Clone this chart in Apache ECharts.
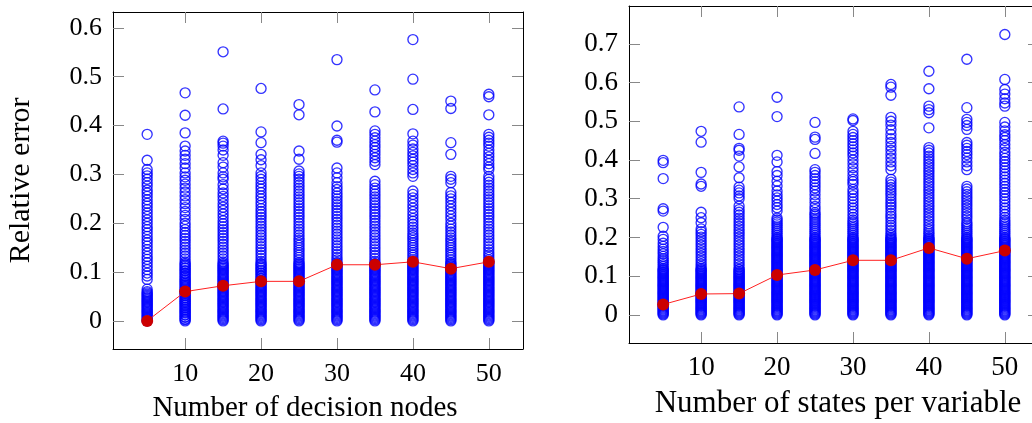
<!DOCTYPE html>
<html>
<head>
<meta charset="utf-8">
<script src="https://cdn.jsdelivr.net/npm/echarts@6/dist/echarts.min.js"></script>
<style>
  html, body { margin: 0; padding: 0; background: #fff; }
  #chart { width: 1032px; height: 423px; }
</style>
</head>
<body>
<div id="chart"></div>
<script>
// x positions (same for both panels)
const sizes = [5, 10, 15, 20, 25, 30, 35, 40, 45, 50];
const xTicks = [10, 20, 30, 40, 50];
const nodesYTicks = [0, 0.1, 0.2, 0.3, 0.4, 0.5, 0.6];
const statesYTicks = [0, 0.1, 0.2, 0.3, 0.4, 0.5, 0.6, 0.7];

// left panel: relative error per number of decision nodes
const nodesErr05 = [0.382, 0.329, 0.31, 0.303, 0.297, 0.29, 0.283, 0.276, 0.268, 0.262, 0.255, 0.248, 0.241, 0.235, 0.228, 0.221, 0.214, 0.207, 0.2, 0.193, 0.187, 0.18, 0.173, 0.166, 0.16, 0.153, 0.146, 0.139, 0.132, 0.126, 0.119, 0.112, 0.105, 0.098, 0.092, 0.085, 0.065, 0.06, 0.055, 0.05, 0.045, 0.04, 0.035, 0.03, 0.025, 0.02, 0.015, 0.01, 0.005, 0];
const nodesErr10 = [0.467, 0.421, 0.385, 0.358, 0.348, 0.339, 0.331, 0.322, 0.313, 0.303, 0.295, 0.288, 0.28, 0.272, 0.264, 0.256, 0.248, 0.24, 0.232, 0.224, 0.216, 0.208, 0.2, 0.194, 0.187, 0.181, 0.175, 0.169, 0.163, 0.157, 0.151, 0.145, 0.139, 0.133, 0.127, 0.121, 0.115, 0.109, 0.103, 0.097, 0.091, 0.085, 0.08, 0.075, 0.07, 0.065, 0.06, 0.056, 0.052, 0.048, 0.044, 0.04, 0.036, 0.032, 0.028, 0.024, 0.02, 0.016, 0.012, 0.008, 0.004, 0];
const nodesErr15 = [0.551, 0.434, 0.368, 0.364, 0.358, 0.35, 0.339, 0.324, 0.315, 0.303, 0.295, 0.29, 0.279, 0.27, 0.262, 0.255, 0.248, 0.24, 0.233, 0.226, 0.219, 0.212, 0.205, 0.199, 0.193, 0.187, 0.181, 0.175, 0.169, 0.163, 0.157, 0.151, 0.145, 0.139, 0.133, 0.127, 0.121, 0.115, 0.11, 0.105, 0.1, 0.095, 0.09, 0.085, 0.08, 0.075, 0.07, 0.065, 0.06, 0.055, 0.05, 0.045, 0.04, 0.035, 0.03, 0.025, 0.02, 0.015, 0.01, 0.005, 0];
const nodesErr20 = [0.476, 0.387, 0.365, 0.341, 0.33, 0.318, 0.303, 0.296, 0.29, 0.283, 0.276, 0.27, 0.263, 0.256, 0.25, 0.243, 0.237, 0.23, 0.224, 0.218, 0.212, 0.206, 0.2, 0.194, 0.188, 0.182, 0.176, 0.17, 0.164, 0.158, 0.152, 0.146, 0.14, 0.134, 0.128, 0.122, 0.116, 0.11, 0.104, 0.098, 0.092, 0.086, 0.08, 0.075, 0.07, 0.065, 0.06, 0.055, 0.05, 0.045, 0.04, 0.035, 0.03, 0.025, 0.02, 0.015, 0.01, 0.005, 0];
const nodesErr25 = [0.443, 0.422, 0.348, 0.331, 0.307, 0.301, 0.296, 0.29, 0.284, 0.278, 0.272, 0.266, 0.26, 0.254, 0.248, 0.242, 0.236, 0.23, 0.224, 0.218, 0.212, 0.206, 0.2, 0.194, 0.188, 0.182, 0.176, 0.17, 0.165, 0.16, 0.155, 0.15, 0.145, 0.14, 0.135, 0.13, 0.125, 0.12, 0.115, 0.11, 0.105, 0.1, 0.095, 0.09, 0.085, 0.08, 0.075, 0.07, 0.065, 0.06, 0.055, 0.05, 0.045, 0.04, 0.035, 0.03, 0.025, 0.02, 0.015, 0.01, 0.005, 0];
const nodesErr30 = [0.535, 0.399, 0.37, 0.366, 0.313, 0.303, 0.293, 0.283, 0.275, 0.269, 0.262, 0.256, 0.25, 0.244, 0.238, 0.232, 0.226, 0.22, 0.214, 0.208, 0.202, 0.196, 0.19, 0.184, 0.178, 0.172, 0.166, 0.16, 0.154, 0.148, 0.142, 0.136, 0.13, 0.125, 0.12, 0.115, 0.11, 0.105, 0.1, 0.095, 0.09, 0.085, 0.08, 0.075, 0.07, 0.065, 0.06, 0.055, 0.05, 0.045, 0.04, 0.035, 0.03, 0.025, 0.02, 0.015, 0.01, 0.005, 0];
const nodesErr35 = [0.473, 0.428, 0.389, 0.382, 0.375, 0.368, 0.361, 0.355, 0.348, 0.341, 0.334, 0.327, 0.32, 0.286, 0.279, 0.272, 0.266, 0.26, 0.254, 0.248, 0.242, 0.236, 0.23, 0.224, 0.218, 0.212, 0.206, 0.2, 0.194, 0.188, 0.182, 0.176, 0.17, 0.164, 0.158, 0.152, 0.146, 0.14, 0.134, 0.128, 0.122, 0.116, 0.11, 0.105, 0.1, 0.095, 0.09, 0.085, 0.08, 0.075, 0.07, 0.065, 0.06, 0.055, 0.05, 0.045, 0.04, 0.035, 0.03, 0.025, 0.02, 0.015, 0.01, 0.005, 0];
const nodesErr40 = [0.576, 0.495, 0.433, 0.383, 0.368, 0.36, 0.352, 0.345, 0.338, 0.331, 0.325, 0.318, 0.31, 0.303, 0.296, 0.266, 0.259, 0.252, 0.245, 0.238, 0.231, 0.224, 0.217, 0.21, 0.204, 0.198, 0.192, 0.186, 0.18, 0.175, 0.17, 0.165, 0.16, 0.155, 0.15, 0.145, 0.14, 0.135, 0.13, 0.125, 0.12, 0.115, 0.11, 0.105, 0.1, 0.095, 0.09, 0.085, 0.08, 0.075, 0.07, 0.065, 0.06, 0.055, 0.05, 0.045, 0.04, 0.035, 0.03, 0.025, 0.02, 0.015, 0.01, 0.005, 0];
const nodesErr45 = [0.45, 0.435, 0.365, 0.341, 0.296, 0.29, 0.283, 0.263, 0.256, 0.25, 0.243, 0.236, 0.229, 0.222, 0.215, 0.208, 0.2, 0.194, 0.188, 0.182, 0.176, 0.17, 0.165, 0.16, 0.155, 0.15, 0.145, 0.14, 0.135, 0.13, 0.125, 0.12, 0.115, 0.11, 0.105, 0.1, 0.095, 0.09, 0.085, 0.08, 0.075, 0.07, 0.065, 0.06, 0.055, 0.05, 0.045, 0.04, 0.035, 0.03, 0.025, 0.02, 0.015, 0.01, 0.005, 0];
const nodesErr50 = [0.464, 0.459, 0.422, 0.382, 0.376, 0.37, 0.364, 0.358, 0.35, 0.343, 0.336, 0.329, 0.322, 0.315, 0.31, 0.296, 0.29, 0.284, 0.278, 0.272, 0.266, 0.26, 0.254, 0.248, 0.242, 0.236, 0.23, 0.224, 0.218, 0.212, 0.206, 0.2, 0.194, 0.188, 0.182, 0.176, 0.17, 0.164, 0.158, 0.152, 0.146, 0.14, 0.135, 0.13, 0.125, 0.12, 0.115, 0.11, 0.105, 0.1, 0.095, 0.09, 0.085, 0.08, 0.075, 0.07, 0.065, 0.06, 0.055, 0.05, 0.045, 0.04, 0.035, 0.03, 0.025, 0.02, 0.015, 0.01, 0.005, 0];
// extra readings packed at the base of every column (solid blue part)
const nodesBase = [0.0025, 0.0075, 0.0125, 0.0175, 0.0225, 0.0275, 0.0325, 0.0375, 0.0425, 0.0475, 0.0525, 0.0575];
// solid part above the base, columns 10..50 only
const nodesCore = [0.0625, 0.0675, 0.0725, 0.0775, 0.0825, 0.0875, 0.0925, 0.0975, 0.1025, 0.1075, 0.1125, 0.1175];
const nodesMean = [0, 0.06, 0.072, 0.081, 0.081, 0.115, 0.115, 0.121, 0.107, 0.121];

// right panel: relative error per number of states per variable
const statesErr05 = [0.399, 0.393, 0.352, 0.274, 0.268, 0.226, 0.203, 0.195, 0.185, 0.177, 0.17, 0.164, 0.158, 0.151, 0.145, 0.14, 0.135, 0.13, 0.125, 0.12, 0.115, 0.11, 0.105, 0.1, 0.095, 0.09, 0.085, 0.08, 0.075, 0.07, 0.065, 0.06, 0.055, 0.05, 0.045, 0.04, 0.035, 0.03, 0.025, 0.02, 0.015, 0.01, 0.005, 0];
const statesErr10 = [0.474, 0.446, 0.368, 0.338, 0.332, 0.265, 0.251, 0.238, 0.222, 0.215, 0.208, 0.201, 0.194, 0.187, 0.18, 0.173, 0.166, 0.159, 0.152, 0.145, 0.138, 0.131, 0.125, 0.12, 0.115, 0.11, 0.105, 0.1, 0.095, 0.09, 0.085, 0.08, 0.075, 0.07, 0.065, 0.06, 0.055, 0.05, 0.045, 0.04, 0.035, 0.03, 0.025, 0.02, 0.015, 0.01, 0.005, 0];
const statesErr15 = [0.537, 0.466, 0.43, 0.425, 0.41, 0.382, 0.354, 0.33, 0.322, 0.315, 0.307, 0.3, 0.281, 0.272, 0.265, 0.258, 0.25, 0.243, 0.236, 0.229, 0.222, 0.215, 0.208, 0.201, 0.194, 0.187, 0.18, 0.173, 0.166, 0.159, 0.152, 0.145, 0.138, 0.131, 0.124, 0.117, 0.11, 0.105, 0.1, 0.095, 0.09, 0.085, 0.08, 0.075, 0.07, 0.065, 0.06, 0.055, 0.05, 0.045, 0.04, 0.035, 0.03, 0.025, 0.02, 0.015, 0.01, 0.005, 0];
const statesErr20 = [0.562, 0.512, 0.412, 0.395, 0.37, 0.36, 0.345, 0.333, 0.32, 0.31, 0.302, 0.294, 0.285, 0.277, 0.268, 0.25, 0.245, 0.24, 0.235, 0.23, 0.225, 0.22, 0.215, 0.21, 0.205, 0.2, 0.195, 0.19, 0.185, 0.18, 0.175, 0.17, 0.165, 0.16, 0.155, 0.15, 0.145, 0.14, 0.135, 0.13, 0.125, 0.12, 0.115, 0.11, 0.105, 0.1, 0.095, 0.09, 0.085, 0.08, 0.075, 0.07, 0.065, 0.06, 0.055, 0.05, 0.045, 0.04, 0.035, 0.03, 0.025, 0.02, 0.015, 0.01, 0.005, 0];
const statesErr25 = [0.497, 0.459, 0.453, 0.417, 0.375, 0.368, 0.36, 0.352, 0.344, 0.336, 0.328, 0.32, 0.31, 0.3, 0.29, 0.28, 0.272, 0.264, 0.26, 0.255, 0.25, 0.245, 0.24, 0.235, 0.23, 0.225, 0.22, 0.215, 0.21, 0.205, 0.2, 0.195, 0.19, 0.185, 0.18, 0.175, 0.17, 0.165, 0.16, 0.155, 0.15, 0.145, 0.14, 0.135, 0.13, 0.125, 0.12, 0.115, 0.11, 0.105, 0.1, 0.095, 0.09, 0.085, 0.08, 0.075, 0.07, 0.065, 0.06, 0.055, 0.05, 0.045, 0.04, 0.035, 0.03, 0.025, 0.02, 0.015, 0.01, 0.005, 0];
const statesErr30 = [0.506, 0.502, 0.474, 0.466, 0.458, 0.45, 0.442, 0.434, 0.426, 0.418, 0.41, 0.4, 0.39, 0.38, 0.37, 0.36, 0.35, 0.344, 0.337, 0.324, 0.316, 0.308, 0.3, 0.292, 0.284, 0.276, 0.268, 0.26, 0.252, 0.245, 0.24, 0.235, 0.23, 0.225, 0.22, 0.215, 0.21, 0.205, 0.2, 0.195, 0.19, 0.185, 0.18, 0.175, 0.17, 0.165, 0.16, 0.155, 0.15, 0.145, 0.14, 0.135, 0.13, 0.125, 0.12, 0.115, 0.11, 0.105, 0.1, 0.095, 0.09, 0.085, 0.08, 0.075, 0.07, 0.065, 0.06, 0.055, 0.05, 0.045, 0.04, 0.035, 0.03, 0.025, 0.02, 0.015, 0.01, 0.005, 0];
const statesErr35 = [0.595, 0.588, 0.567, 0.51, 0.5, 0.49, 0.478, 0.466, 0.455, 0.445, 0.435, 0.425, 0.415, 0.405, 0.395, 0.385, 0.375, 0.35, 0.343, 0.336, 0.329, 0.322, 0.315, 0.308, 0.3, 0.292, 0.285, 0.278, 0.27, 0.262, 0.255, 0.248, 0.24, 0.232, 0.225, 0.218, 0.21, 0.205, 0.2, 0.195, 0.19, 0.185, 0.18, 0.175, 0.17, 0.165, 0.16, 0.155, 0.15, 0.145, 0.14, 0.135, 0.13, 0.125, 0.12, 0.115, 0.11, 0.105, 0.1, 0.095, 0.09, 0.085, 0.08, 0.075, 0.07, 0.065, 0.06, 0.055, 0.05, 0.045, 0.04, 0.035, 0.03, 0.025, 0.02, 0.015, 0.01, 0.005, 0];
const statesErr40 = [0.629, 0.584, 0.539, 0.53, 0.522, 0.483, 0.432, 0.425, 0.418, 0.41, 0.403, 0.396, 0.389, 0.382, 0.375, 0.368, 0.361, 0.354, 0.347, 0.34, 0.333, 0.326, 0.319, 0.312, 0.305, 0.298, 0.291, 0.284, 0.277, 0.27, 0.263, 0.256, 0.249, 0.242, 0.235, 0.228, 0.221, 0.215, 0.21, 0.205, 0.2, 0.195, 0.19, 0.185, 0.18, 0.175, 0.17, 0.165, 0.16, 0.155, 0.15, 0.145, 0.14, 0.135, 0.13, 0.125, 0.12, 0.115, 0.11, 0.105, 0.1, 0.095, 0.09, 0.085, 0.08, 0.075, 0.07, 0.065, 0.06, 0.055, 0.05, 0.045, 0.04, 0.035, 0.03, 0.025, 0.02, 0.015, 0.01, 0.005, 0];
const statesErr45 = [0.66, 0.535, 0.505, 0.497, 0.489, 0.479, 0.445, 0.438, 0.43, 0.422, 0.414, 0.405, 0.395, 0.385, 0.375, 0.332, 0.325, 0.318, 0.311, 0.304, 0.297, 0.29, 0.283, 0.276, 0.269, 0.262, 0.255, 0.248, 0.24, 0.235, 0.23, 0.225, 0.22, 0.215, 0.21, 0.205, 0.2, 0.195, 0.19, 0.185, 0.18, 0.175, 0.17, 0.165, 0.16, 0.155, 0.15, 0.145, 0.14, 0.135, 0.13, 0.125, 0.12, 0.115, 0.11, 0.105, 0.1, 0.095, 0.09, 0.085, 0.08, 0.075, 0.07, 0.065, 0.06, 0.055, 0.05, 0.045, 0.04, 0.035, 0.03, 0.025, 0.02, 0.015, 0.01, 0.005, 0];
const statesErr50 = [0.724, 0.608, 0.582, 0.57, 0.558, 0.547, 0.539, 0.497, 0.485, 0.475, 0.465, 0.458, 0.45, 0.44, 0.43, 0.42, 0.412, 0.404, 0.396, 0.388, 0.38, 0.372, 0.364, 0.356, 0.348, 0.34, 0.332, 0.324, 0.316, 0.308, 0.3, 0.292, 0.284, 0.276, 0.268, 0.26, 0.252, 0.245, 0.24, 0.235, 0.23, 0.225, 0.22, 0.215, 0.21, 0.205, 0.2, 0.195, 0.19, 0.185, 0.18, 0.175, 0.17, 0.165, 0.16, 0.155, 0.15, 0.145, 0.14, 0.135, 0.13, 0.125, 0.12, 0.115, 0.11, 0.105, 0.1, 0.095, 0.09, 0.085, 0.08, 0.075, 0.07, 0.065, 0.06, 0.055, 0.05, 0.045, 0.04, 0.035, 0.03, 0.025, 0.02, 0.015, 0.01, 0.005, 0];
// extra readings packed at the base of every column (solid blue part)
const statesBase = [0.0025, 0.0075, 0.0125, 0.0175, 0.0225, 0.0275, 0.0325, 0.0375, 0.0425, 0.0475, 0.0525, 0.0575, 0.0625, 0.0675, 0.0725, 0.0775, 0.0825, 0.0875, 0.0925, 0.0975, 0.1025, 0.1075, 0.1125, 0.1175];
// solid part above the base, columns 20..50 only
const statesCore = [0.1225, 0.1275, 0.1325, 0.1375, 0.1425, 0.1475, 0.1525, 0.1575, 0.1625, 0.1675, 0.1725, 0.1775, 0.1825, 0.1875, 0.1925, 0.1975];
const statesMean = [0.027, 0.054, 0.055, 0.103, 0.116, 0.141, 0.141, 0.173, 0.145, 0.166];

const nodesCols = [nodesErr05, nodesErr10, nodesErr15, nodesErr20, nodesErr25, nodesErr30, nodesErr35, nodesErr40, nodesErr45, nodesErr50];
const statesCols = [statesErr05, statesErr10, statesErr15, statesErr20, statesErr25, statesErr30, statesErr35, statesErr40, statesErr45, statesErr50];

const font = 'Liberation Serif';
const toPoints = cols => cols.flatMap((col, i) => col.map(v => [sizes[i], v]));
const spread = (xs, vals) => xs.flatMap(x => vals.map(v => [x, v]));

// pgfplots-style box: ticks inside, mirrored on top / right
function xAxes(grid, name, o) {
  const tick = { inside: true, length: 11, customValues: xTicks, lineStyle: { color: '#888', width: 1 } };
  return [
    {
      type: 'value', gridIndex: grid, position: 'bottom', min: 0.5, max: 54.5,
      name: name, nameLocation: 'middle', nameGap: o.nameGap,
      nameTextStyle: { fontFamily: font, fontSize: o.nameSize, color: '#000', padding: o.namePad },
      axisLine: { show: true, onZero: false, lineStyle: { color: '#000', width: 1 } },
      axisTick: tick,
      axisLabel: { customValues: xTicks, margin: o.margin, fontFamily: font, fontSize: o.labelSize, color: '#000' },
      splitLine: { show: false }
    },
    {
      type: 'value', gridIndex: grid, position: 'top', min: 0.5, max: 54.5,
      axisLine: { show: true, onZero: false, lineStyle: { color: '#000', width: 1 } },
      axisTick: tick, axisLabel: { show: false }, splitLine: { show: false }
    }
  ];
}

function yAxes(grid, min, max, ticks, name, labelSize) {
  const tick = { inside: true, length: 11, customValues: ticks, lineStyle: { color: '#888', width: 1 } };
  return [
    {
      type: 'value', gridIndex: grid, position: 'left', min: min, max: max,
      name: name, nameLocation: 'middle', nameGap: 77,
      nameTextStyle: { fontFamily: font, fontSize: 30, color: '#000' },
      axisLine: { show: true, onZero: false, lineStyle: { color: '#000', width: 1 } },
      axisTick: tick,
      axisLabel: { customValues: ticks, margin: 11, fontFamily: font, fontSize: labelSize, color: '#000' },
      splitLine: { show: false }
    },
    {
      type: 'value', gridIndex: grid, position: 'right', min: min, max: max,
      axisLine: { show: true, onZero: false, lineStyle: { color: '#000', width: 1 } },
      axisTick: tick, axisLabel: { show: false }, splitLine: { show: false }
    }
  ];
}

const ringStyle = { color: 'rgba(0,0,0,0)', borderColor: '#0000ff', borderWidth: 1.35 };
const meanStyle = { color: '#cc0000' };

const chart = echarts.init(document.getElementById('chart'), null, { renderer: 'canvas' });
chart.setOption({
  animation: false,
  grid: [
    { left: 113, top: 12, width: 410, height: 337, outerBoundsMode: 'none' },
    { left: 629, top: 6, width: 410, height: 337, outerBoundsMode: 'none' }
  ],
  xAxis: [
    ...xAxes(0, 'Number of decision nodes', { nameGap: 45, nameSize: 29, namePad: [0, 26, 0, 0], margin: 12, labelSize: 26 }),
    ...xAxes(1, 'Number of states per variable', { nameGap: 45, nameSize: 31, namePad: [0, 0, 0, 8], margin: 11, labelSize: 27 })
  ],
  yAxis: [
    ...yAxes(0, -0.0575, 0.6325, nodesYTicks, 'Relative error', 26),
    ...yAxes(1, -0.0725, 0.7975, statesYTicks, '', 27)
  ],
  series: [
    {
      type: 'scatter', xAxisIndex: 0, yAxisIndex: 0,
      symbol: 'circle', symbolSize: 10, itemStyle: ringStyle,
      data: toPoints(nodesCols)
        .concat(spread(sizes, nodesBase))
        .concat(spread(sizes.slice(1), nodesCore))
    },
    {
      type: 'line', xAxisIndex: 0, yAxisIndex: 0,
      symbol: 'circle', symbolSize: 12, itemStyle: meanStyle,
      lineStyle: { color: '#ff2020', width: 1 },
      data: nodesMean.map((v, i) => [sizes[i], v])
    },
    {
      type: 'scatter', xAxisIndex: 2, yAxisIndex: 2,
      symbol: 'circle', symbolSize: 10, itemStyle: ringStyle,
      data: toPoints(statesCols)
        .concat(spread(sizes, statesBase))
        .concat(spread(sizes.slice(3), statesCore))
    },
    {
      type: 'line', xAxisIndex: 2, yAxisIndex: 2,
      symbol: 'circle', symbolSize: 12, itemStyle: meanStyle,
      lineStyle: { color: '#ff2020', width: 1 },
      data: statesMean.map((v, i) => [sizes[i], v])
    }
  ]
});
</script>
</body>
</html>
